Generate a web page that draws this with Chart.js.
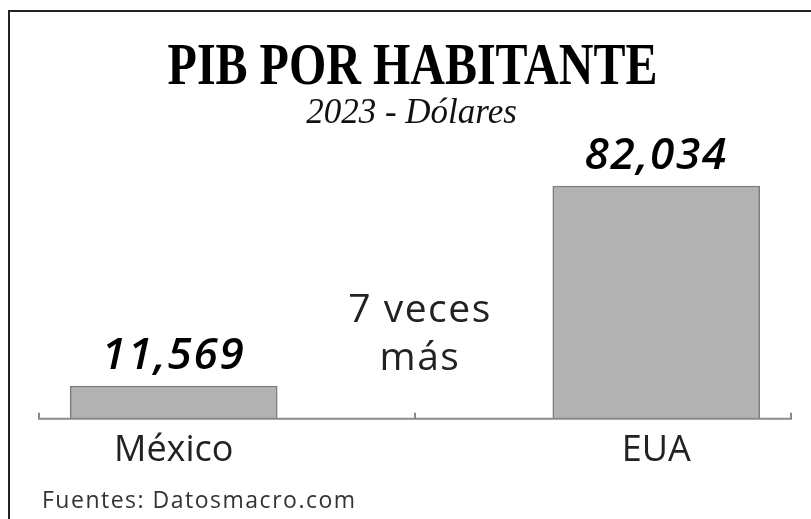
<!DOCTYPE html>
<html>
<head>
<meta charset="utf-8">
<script src="https://cdn.jsdelivr.net/npm/chart.js@4.4.1/dist/chart.umd.min.js"></script>
<style>
  html, body { margin: 0; padding: 0; background: #fff; }
  #wrap { position: relative; width: 811px; height: 519px; overflow: hidden; }
  #frame { position: absolute; left: 8px; top: 10px; width: 820px; height: 520px;
           border-top: 2px solid #222; border-left: 2px solid #222; box-sizing: border-box; }
  canvas { position: absolute; left: 0; top: 0; }
  .txt { position: absolute; white-space: nowrap; line-height: 1; }
  #title { left: 0; width: 825px; text-align: center; top: 34px;
           font-family: "Liberation Serif", serif; font-weight: bold; font-size: 60px; color: #000;
           transform: scaleX(0.8); transform-origin: 412.5px 0; }
  #subtitle { left: 0; width: 823px; text-align: center; top: 94px;
              font-family: "Liberation Serif", serif; font-style: italic; font-size: 35px; color: #111; }
  #note { left: 320px; width: 200px; text-align: center; top: 283px;
          font-family: "Open Sans", sans-serif; font-size: 39px; line-height: 48px; color: #222;
          letter-spacing: 1.5px; }
  #source { left: 42px; top: 488px; font-family: "Open Sans", sans-serif; font-size: 23px; color: #333;
            letter-spacing: 1.5px; }
</style>
</head>
<body>
<div id="wrap">
  <canvas id="c" width="811" height="519"></canvas>
  <div id="frame"></div>
  <div class="txt" id="title">PIB POR HABITANTE</div>
  <div class="txt" id="subtitle">2023 - Dólares</div>
  <div class="txt" id="note">7 veces<br>más</div>
  <div class="txt" id="source">Fuentes: Datosmacro.com</div>
</div>
<script>
const categories = ["México", "EUA"];
const gdpPerCapita = [11569, 82034];

const points = categories.map((c, i) => ({ x: i, y: gdpPerCapita[i] }));

const axisPlugin = {
  id: "axisAndLabels",
  afterDatasetsDraw(chart) {
    const ctx = chart.ctx;
    const xs = chart.scales.x;
    const ys = chart.scales.y;
    const base = ys.getPixelForValue(0);
    ctx.save();
    ctx.strokeStyle = "#8a8a8a";
    ctx.lineWidth = 2;
    ctx.beginPath();
    ctx.moveTo(xs.left, base);
    ctx.lineTo(xs.right, base);
    [xs.left + 1, xs.getPixelForValue(0.5), xs.right - 1].forEach(px => {
      ctx.moveTo(px, base);
      ctx.lineTo(px, base - 6);
    });
    ctx.stroke();
    // value labels
    const meta = chart.getDatasetMeta(0);
    ctx.fillStyle = "#000";
    ctx.font = "italic 600 44px 'Open Sans', sans-serif";
    if ("letterSpacing" in ctx) ctx.letterSpacing = "1.8px";
    ctx.textAlign = "center";
    ctx.textBaseline = "alphabetic";
    meta.data.forEach((bar, i) => {
      const v = chart.data.datasets[0].data[i].y;
      ctx.fillText(v.toLocaleString("en-US"), bar.x, bar.y - 17);
    });
    ctx.restore();
  }
};

new Chart(document.getElementById("c"), {
  type: "bar",
  data: {
    datasets: [{
      data: points,
      backgroundColor: "#b2b2b2",
      borderColor: "#7d7d7d",
      borderWidth: 1.5,
      barThickness: 207
    }]
  },
  options: {
    responsive: false,
    animation: false,
    layout: { padding: { left: 38, right: 19, top: 135, bottom: 37 } },
    plugins: { legend: { display: false }, tooltip: { enabled: false } },
    scales: {
      x: {
        type: "linear",
        min: -0.28125,
        max: 1.28125,
        offset: false,
        grid: { display: false, drawTicks: false },
        border: { display: false },
        afterBuildTicks: (scale) => { scale.ticks = categories.map((c, i) => ({ value: i })); },
        ticks: {
          padding: 10,
          color: "#222",
          font: { family: "'Open Sans', sans-serif", size: 36 },
          callback: (v) => categories[v] ?? ""
        }
      },
      y: {
        display: false,
        min: 0,
        max: 100000
      }
    }
  },
  plugins: [axisPlugin]
});
</script>
</body>
</html>
